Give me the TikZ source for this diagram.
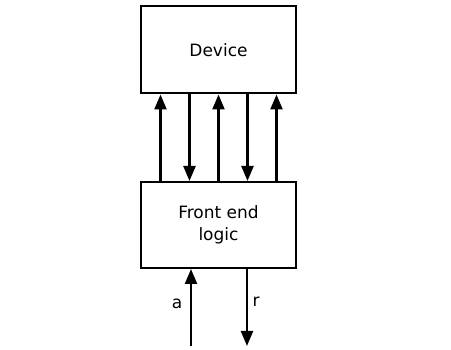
\documentclass[tikz,border=0pt]{standalone}
\usepackage{fontspec}
\setmainfont{DejaVu Sans}
\usetikzlibrary{arrows.meta}
\tikzset{
  blockbox/.style={draw, line width=2pt, minimum width=155pt, minimum height=87pt,
    align=center, font=\fontsize{17}{22}\selectfont},
  sig/.style={line width=2.4pt, -{Triangle[length=15pt,width=12pt]}},
}
\begin{document}
\begin{tikzpicture}[x=1pt,y=-1pt]
  \useasboundingbox (0,0) rectangle (451,350);
  \node[blockbox] (dev) at (218.5,50) {Device};
  \node[blockbox, minimum height=86pt] (fe) at (218.5,225) {Front end\\logic};
  % buses between the two blocks
  \foreach \dx in {-58,0,58}
    \draw[sig] ([xshift=\dx pt]fe.north) -- ([xshift=\dx pt]dev.south);
  \foreach \dx in {-29,29}
    \draw[sig] ([xshift=\dx pt]dev.south) -- ([xshift=\dx pt]fe.north);
  % request / acknowledge lines
  \coordinate (ain) at (191,346);
  \coordinate (rout) at (247,346);
  \draw[sig] (ain) -- (ain |- fe.south);
  \draw[sig] (rout |- fe.south) -- (rout);
  \node[font=\fontsize{17}{20}\selectfont] (alab) at (177,304) {a};
  \node[font=\fontsize{17}{20}\selectfont] (rlab) at (256,302) {r};
\end{tikzpicture}
\end{document}
